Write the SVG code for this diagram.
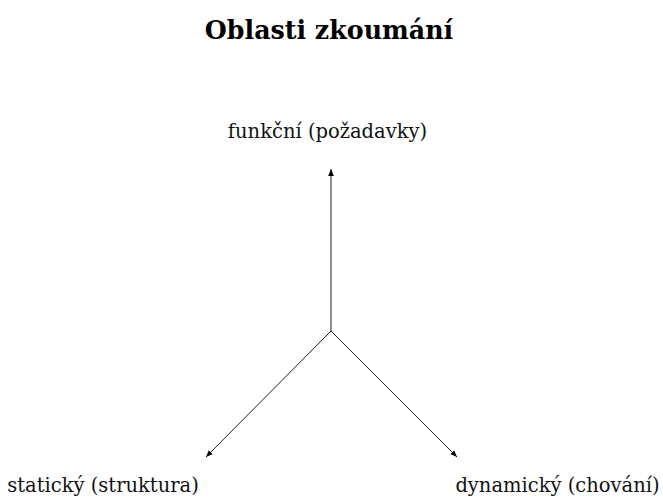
<svg xmlns="http://www.w3.org/2000/svg" width="663" height="500" viewBox="0 0 663 500">
  <style>
    .title { font-family: "DejaVu Serif", "Liberation Serif", serif; font-weight: bold; font-size: 25.3px; fill: #000; }
    .label { font-family: "DejaVu Serif", "Liberation Serif", serif; font-size: 19.5px; fill: #111; }
    .axis { stroke: #222; stroke-width: 1; fill: none; marker-end: url(#tip); }
  </style>
  <defs>
    <marker id="tip" viewBox="0 0 10 10" refX="10" refY="5" markerWidth="7" markerHeight="7" markerUnits="userSpaceOnUse" orient="auto">
      <path d="M0,1 L10,5 L0,9 Z" fill="#000"/>
    </marker>
  </defs>
  <rect width="663" height="500" fill="#fff"/>
  <text class="title" x="329" y="39" text-anchor="middle">Oblasti zkoumání</text>

  <g id="connectors">
    <line class="axis" x1="331" y1="331" x2="331" y2="169"/>
    <line class="axis" x1="331" y1="331" x2="206" y2="457"/>
    <line class="axis" x1="331" y1="331" x2="457" y2="457"/>
  </g>

  <g id="funkcni">
    <text class="label" x="327.5" y="138" text-anchor="middle">funkční (požadavky)</text>
  </g>
  <g id="staticky">
    <text class="label" x="103" y="492" text-anchor="middle">statický (struktura)</text>
  </g>
  <g id="dynamicky">
    <text class="label" x="557.5" y="492" text-anchor="middle">dynamický (chování)</text>
  </g>
</svg>
